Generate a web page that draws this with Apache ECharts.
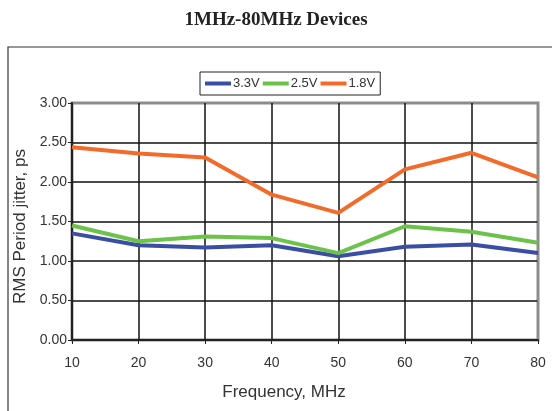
<!DOCTYPE html>
<html><head><meta charset="utf-8">
<script src="https://cdn.jsdelivr.net/npm/echarts@6/dist/echarts.min.js"></script>
<style>html,body{margin:0;padding:0;background:#fff}#c{width:552px;height:411px}</style>
</head><body><div id="c"></div>
<script>
var freq = [10, 20, 30, 40, 50, 60, 70, 80];
var v33 = [1.35, 1.20, 1.17, 1.20, 1.06, 1.18, 1.21, 1.10];
var v25 = [1.45, 1.25, 1.31, 1.29, 1.10, 1.44, 1.37, 1.23];
var v18 = [2.44, 2.36, 2.31, 1.84, 1.61, 2.16, 2.37, 2.06];
var names = ['3.3V', '2.5V', '1.8V'];
var colors = ['#3a4ea3', '#6cc24a', '#f26b2b'];
function pairs(v){ return freq.map(function(f,i){ return [f, v[i]]; }); }
var chart = echarts.init(document.getElementById('c'));
var font = 'Liberation Sans, Arial, sans-serif';
var gk = '#111', gg = '#8c8c8c';
chart.setOption({
  animation: false,
  title: { text: '1MHz-80MHz Devices', left: 'center', top: 6,
    textStyle: { fontFamily: 'Liberation Serif, Times New Roman, serif', fontWeight: 'bold', fontSize: 19, color: '#222' } },
  graphic: [{ type: 'rect', shape: { x: 8, y: 47, width: 600, height: 420 },
    style: { fill: 'none', stroke: '#333', lineWidth: 1.2 }, z: -1 }],
  legend: { data: names, left: 200, top: 72, icon: 'rect', itemWidth: 26, itemHeight: 4, itemGap: 3,
    padding: [5, 5], borderColor: '#222', borderWidth: 1,
    textStyle: { fontFamily: font, fontSize: 13, color: '#333', padding: [0, 0, 0, -3] } },
  grid: { left: 72, right: 14, top: 103, bottom: 71, show: true, borderColor: gg, borderWidth: 3 },
  xAxis: { type: 'value', min: 10, max: 80, interval: 10,
    name: 'Frequency, MHz', nameLocation: 'middle', nameGap: 44,
    nameTextStyle: { fontFamily: font, fontSize: 17, color: '#333', padding: [0, 42, 0, 0] },
    axisLine: { show: true, lineStyle: { color: '#222', width: 2 } },
    axisTick: { show: true, length: 4, lineStyle: { color: '#222' } },
    axisLabel: { fontFamily: font, fontSize: 14, color: '#333', margin: 16 },
    splitLine: { show: true, lineStyle: { color: [gk, gk, gk, gk, gk, gk, gk, gg], width: 1.5 } } },
  yAxis: { type: 'value', min: 0, max: 3, interval: 0.5,
    name: 'RMS Period jitter, ps', nameLocation: 'middle', nameGap: 40,
    nameTextStyle: { fontFamily: font, fontSize: 17, color: '#333', padding: [0, 10, 0, 0] },
    axisLine: { show: true, lineStyle: { color: '#222', width: 2 } },
    axisTick: { show: true, length: 4, lineStyle: { color: '#222' } },
    axisLabel: { fontFamily: font, fontSize: 14, color: '#333', margin: 5,
      formatter: function(v){ return v.toFixed(2); } },
    splitLine: { show: true, lineStyle: { color: [gk, gk, gk, gk, gk, gk, gg], width: 1.5 } } },
  series: [v33, v25, v18].map(function(v, i){
    return { name: names[i], type: 'line', data: pairs(v), symbol: 'none',
      lineStyle: { width: 4, color: colors[i] }, itemStyle: { color: colors[i] } };
  })
});
</script></body></html>
